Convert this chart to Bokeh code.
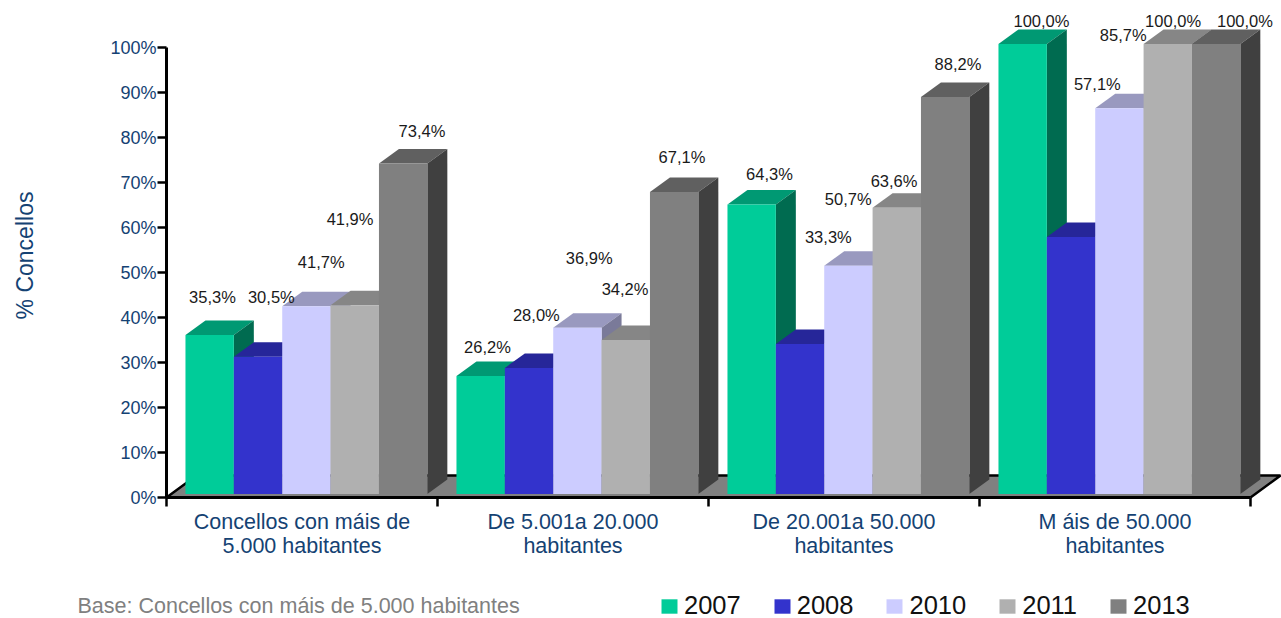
from bokeh.embed import file_html
from bokeh.resources import INLINE
from bokeh.plotting import figure
from bokeh.models import Range1d, FixedTicker, ColumnDataSource, Legend, LegendItem, PrintfTickFormatter
from bokeh.core.properties import value
import math

categories = ["Concellos con máis de\n5.000 habitantes", "De 5.001a 20.000\nhabitantes",
              "De 20.001a 50.000\nhabitantes", "M áis de 50.000\nhabitantes"]
years = ["2007", "2008", "2010", "2011", "2013"]
v2007 = [35.3, 26.2, 64.3, 100.0]
v2008 = [30.5, 28.0, 33.3, 57.1]
v2010 = [41.7, 36.9, 50.7, 85.7]
v2011 = [41.9, 34.2, 63.6, 100.0]
v2013 = [73.4, 67.1, 88.2, 100.0]
series = [v2007, v2008, v2010, v2011, v2013]

front_colors = ["#00CC99", "#3333CC", "#CCCCFF", "#B0B0B0", "#808080"]
top_colors = ["#009973", "#262699", "#9999BF", "#868686", "#606060"]
side_colors = ["#006B50", "#1F1F7A", "#7A7A99", "#6B6B6B", "#404040"]

# hand-placed value labels: pixel offset from each bar's front top centre (by series, then group)
label_dx = [[2.8, 6.8, 17.8, 18.8], [13.3, 7.3, 28.3, 26.3], [14.8, 11.8, -0.2, 3.8],
            [-4.7, -0.7, -2.7, 5.3], [18.8, 7.8, 12.8, 28.8]]
label_dy = [[-37.6, -29.5, -31.0, -23.4], [-59.2, -53.4, -107.5, -153.4], [-43.8, -69.4, -66.3, -72.8],
            [-85.9, -51.5, -27.2, -23.4], [-33.1, -35.4, -33.5, -23.4]]

NAVY = "#144273"
W, H = 1281, 618
ORIGIN_X, ORIGIN_Y = 166, 497   # where the axes cross, in picture pixels
UX = 271.0     # pixels per category
UY = 4.5       # pixels per percent
BAR_START, BAR_W = 0.07, 0.1785
DEPTH_X, DEPTH_Y = 20 / UX, 14.5 / UY
FRONT_LIFT = 0.8
FLOOR_X, FLOOR_Y = 30 / UX, 22 / UY


def dx_of(px):
    return (px - ORIGIN_X) / UX


def dy_of(py):
    return (ORIGIN_Y - py) / UY


p = figure(width=W, height=H, output_backend="svg", toolbar_location=None,
           x_range=Range1d(dx_of(0), dx_of(W)), y_range=Range1d(dy_of(H), dy_of(0)),
           min_border=0)
p.outline_line_color = None
p.background_fill_color = None
p.grid.visible = False

n = len(categories)
# floor
p.patch([0, FLOOR_X, n + FLOOR_X, n], [0, FLOOR_Y, FLOOR_Y, 0], fill_color="#808080", line_color=None)
p.line([0, FLOOR_X, n + FLOOR_X, n], [0, FLOOR_Y, FLOOR_Y, 0], line_color="black", line_width=2.5)

legend_items = []
for s, vals in enumerate(series):
    lefts = [g + BAR_START + BAR_W * s for g in range(n)]
    rights = [l + BAR_W for l in lefts]
    tops = [v + FRONT_LIFT for v in vals]
    p.patches([[l, l + DEPTH_X, r + DEPTH_X, r] for l, r in zip(lefts, rights)],
              [[t, t + DEPTH_Y, t + DEPTH_Y, t] for t in tops],
              fill_color=top_colors[s], line_color=None)
    p.patches([[r, r + DEPTH_X, r + DEPTH_X, r] for r in rights],
              [[t, t + DEPTH_Y, FRONT_LIFT + DEPTH_Y, FRONT_LIFT] for t in tops],
              fill_color=side_colors[s], line_color=None)
    r = p.quad(left=lefts, right=rights, bottom=FRONT_LIFT, top=tops,
               fill_color=front_colors[s], line_color=None)
    legend_items.append(LegendItem(label=value(years[s]), renderers=[r]))

# value labels above everything
for s, vals in enumerate(series):
    src = ColumnDataSource(dict(
        x=[g + BAR_START + BAR_W * (s + 0.5) for g in range(n)],
        y=[v + FRONT_LIFT for v in vals],
        text=[f"{v:.1f}%".replace(".", ",") for v in vals],
        dx=label_dx[s], dy=label_dy[s]))
    p.text(x="x", y="y", text="text", x_offset="dx", y_offset="dy", source=src,
           text_align="center", text_baseline="middle",
           text_font=value("Liberation Sans"), text_font_size="16.5px", text_color="#1a1a1a")

# y axis, fixed at the origin
ya = p.yaxis[0]
ya.fixed_location = 0
ya.ticker = FixedTicker(ticks=list(range(0, 101, 10)))
ya.formatter = PrintfTickFormatter(format="%d%%")
ya.bounds = (0, 100)
ya.axis_line_color = "black"
ya.axis_line_width = 3
ya.major_tick_line_color = "black"
ya.major_tick_line_width = 2.5
ya.major_tick_out = 9
ya.major_tick_in = 0
ya.minor_tick_line_color = None
ya.major_label_standoff = 1
ya.major_label_text_font = "Liberation Sans"
ya.major_label_text_font_size = "18px"
ya.major_label_text_color = NAVY

# x axis: labels at category centres, ticks on the category boundaries
xa = p.xaxis[0]
xa.fixed_location = 0
xa.ticker = FixedTicker(ticks=[g + 0.5 for g in range(n)], minor_ticks=list(range(n + 1)))
xa.major_label_overrides = {g + 0.5: categories[g] for g in range(n)}
xa.bounds = (0, n)
xa.axis_line_color = "black"
xa.axis_line_width = 3
xa.major_tick_line_color = None
xa.minor_tick_line_color = "black"
xa.minor_tick_line_width = 2.5
xa.minor_tick_out = 9
xa.minor_tick_in = 0
xa.major_label_standoff = 3
xa.major_label_text_font = "Liberation Sans"
xa.major_label_text_font_size = "21.5px"
xa.major_label_text_line_height = 1.0
xa.major_label_text_color = NAVY

p.text(x=[dx_of(24)], y=[dy_of(255)], text=["% Concellos"], angle=math.pi / 2,
       text_align="center", text_baseline="middle",
       text_font=value("Liberation Sans"), text_font_size="23px", text_color=NAVY)

p.text(x=[dx_of(77)], y=[dy_of(617)], text=["Base: Concellos con máis de 5.000 habitantes"],
       text_align="left", text_baseline="bottom",
       text_font=value("Liberation Sans"), text_font_size="21.5px", text_color="#808080")

legend = Legend(items=legend_items, orientation="horizontal", location=(659, -2),
                background_fill_color=None, border_line_color=None, margin=0, padding=0,
                glyph_width=20, glyph_height=18, label_standoff=5, spacing=31,
                label_text_font="Liberation Sans", label_text_font_size="25.5px", label_text_color="#111111")
p.add_layout(legend, "center")

open("out.html", "w").write(file_html(p, INLINE))
